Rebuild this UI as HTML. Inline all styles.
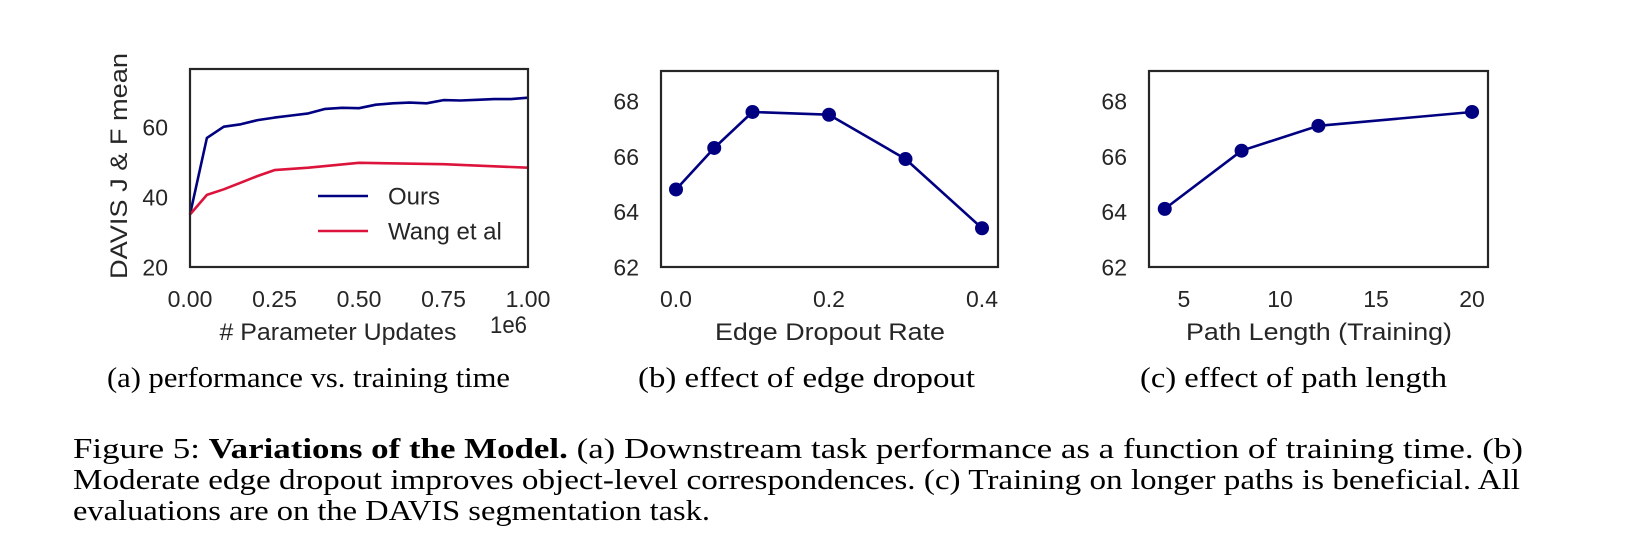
<!DOCTYPE html>
<html><head><meta charset="utf-8">
<style>
html,body{margin:0;padding:0;background:#fff;}
svg{display:block;}
.tick{font-family:"Liberation Sans",sans-serif;font-size:23px;fill:#262626;}
.axl{font-family:"Liberation Sans",sans-serif;font-size:24px;fill:#262626;}
.cap{font-family:"Liberation Serif",serif;font-size:29px;fill:#000;}
</style></head>
<body>
<svg id="fig" width="1642" height="548" viewBox="0 0 1642 548" xmlns="http://www.w3.org/2000/svg">
<g id="charts"></g>
<text class="cap" x="107" y="387" textLength="403" lengthAdjust="spacingAndGlyphs">(a) performance vs. training time</text>
<text class="cap" x="638" y="387" textLength="337" lengthAdjust="spacingAndGlyphs">(b) effect of edge dropout</text>
<text class="cap" x="1140" y="387" textLength="307" lengthAdjust="spacingAndGlyphs">(c) effect of path length</text>
<text class="cap" x="73" y="458" textLength="1450" lengthAdjust="spacingAndGlyphs">Figure 5: <tspan font-weight="bold">Variations of the Model.</tspan> (a) Downstream task performance as a function of training time. (b)</text>
<text class="cap" x="73" y="489" textLength="1447" lengthAdjust="spacingAndGlyphs">Moderate edge dropout improves object-level correspondences. (c) Training on longer paths is beneficial. All</text>
<text class="cap" x="73" y="520" textLength="637" lengthAdjust="spacingAndGlyphs">evaluations are on the DAVIS segmentation task.</text>
</svg>
<script>
// Chart (a) data
const aX = [0,0.05,0.1,0.15,0.2,0.25,0.3,0.35,0.4,0.45,0.5,0.55,0.6,0.65,0.7,0.75,0.8,0.85,0.9,0.95,1.0];
const aOurs = [35,56.9,60.1,60.8,62,62.7,63.3,63.9,65.2,65.5,65.4,66.4,66.8,67.0,66.8,67.7,67.6,67.8,68.0,68.0,68.4];
const aWangX = [0,0.05,0.1,0.15,0.2,0.25,0.35,0.5,0.75,1.0];
const aWang = [35,40.6,42.2,44.1,46,47.7,48.4,49.8,49.4,48.4];
const aXTicks = [0,0.25,0.5,0.75,1.0];
const aXTickLabels = ["0.00","0.25","0.50","0.75","1.00"];
const aYTicks = [20,40,60];
// Chart (b) data
const bX = [0,0.05,0.1,0.2,0.3,0.4];
const bY = [64.8,66.3,67.6,67.5,65.9,63.4];
const bXTicks = [0,0.2,0.4];
const bXTickLabels = ["0.0","0.2","0.4"];
const bYTicks = [62,64,66,68];
// Chart (c) data
const cX = [4,8,12,20];
const cY = [64.1,66.2,67.1,67.6];
const cXTicks = [5,10,15,20];
const cYTicks = [62,64,66,68];

const NS = "http://www.w3.org/2000/svg";
const root = document.getElementById('charts');
function mk(tag, attrs, parent){
  const e = document.createElementNS(NS, tag);
  for (const k in attrs) e.setAttribute(k, attrs[k]);
  (parent||root).appendChild(e);
  return e;
}
function scale(d0,d1,r0,r1){return v => r0 + (v-d0)/(d1-d0)*(r1-r0);}

function panel(o){
  const g = mk('g', {});
  
  
  const sx = scale(o.xd[0], o.xd[1], o.L, o.R);
  const sy = scale(o.yd[0], o.yd[1], o.B, o.T);
  o.xt.forEach((v,i)=>{
    const t = mk('text', {x: sx(v), y: o.B+40, 'text-anchor':'middle', class:'tick'}, g);
    t.textContent = o.xl ? o.xl[i] : String(v);
    
    
  });
  o.yt.forEach(v=>{
    const t = mk('text', {x: o.L-22, y: sy(v)+8.5, 'text-anchor':'end', class:'tick'}, g);
    t.textContent = String(v);
    
    
  });
  const xl = mk('text', {x: o.xlx, y: o.B+73, 'text-anchor':'middle', class:'axl', textLength:o.xlw, lengthAdjust:'spacingAndGlyphs'}, g);
  xl.textContent = o.xlabel;
  
  
  o.series.forEach(s=>{
    const pts = s.x.map((v,i)=>sx(v).toFixed(1)+','+sy(s.y[i]).toFixed(1)).join(' ');
    const pl = mk('polyline', {points: pts, fill:'none', stroke:s.color, 'stroke-width':2.6, 'stroke-linejoin':'round'}, g);
    
    
    if (s.markers) s.x.forEach((v,i)=>{
      const c = mk('circle', {cx: sx(v), cy: sy(s.y[i]), r: 7, fill: s.color}, g);
      
      
    });
  });
  const fr = mk('rect', {x:o.L, y:o.T, width:o.R-o.L, height:o.B-o.T, fill:'none', stroke:'#262626', 'stroke-width':2.2}, g);
  
  
  return {g, sx, sy};
}

const pa = panel({name:'chart-a', L:190, R:528, T:69, B:267, xd:[0,1], yd:[20,76.6],
  xt:aXTicks, xl:aXTickLabels, yt:aYTicks, xlabel:'# Parameter Updates', xlx:338, xlw:237,
  series:[{name:'ours', x:aX, y:aOurs, color:'#000080'},{name:'wang', x:aWangX, y:aWang, color:'#dc143c'}]});
const e6 = mk('text', {x:490, y:333, class:'axl', textLength:37, lengthAdjust:'spacingAndGlyphs'}, pa.g);
e6.textContent = '1e6';


const yt = mk('text', {x:0, y:0, 'text-anchor':'middle', class:'axl', textLength:226, lengthAdjust:'spacingAndGlyphs', transform:'translate(127,166) rotate(-90)'}, pa.g);
yt.textContent = 'DAVIS J & F mean';


[['Ours','#000080',196],['Wang et al','#dc143c',231]].forEach(l=>{
  const ln = mk('line', {x1:318, x2:368, y1:l[2], y2:l[2], stroke:l[1], 'stroke-width':2.6}, pa.g);
  
  
  const t = mk('text', {x:388, y:l[2]+8.5, class:'axl'}, pa.g);
  t.textContent = l[0];
  
  
});

panel({name:'chart-b', L:661, R:998, T:71, B:267, xd:[-0.0196,0.4209], yd:[62,69.08],
  xt:bXTicks, xl:bXTickLabels, yt:bYTicks, xlabel:'Edge Dropout Rate', xlx:830, xlw:230,
  series:[{name:'dropout', x:bX, y:bY, color:'#000080', markers:true}]});
panel({name:'chart-c', L:1149, R:1488, T:71, B:267, xd:[3.18,20.83], yd:[62,69.08],
  xt:cXTicks, yt:cYTicks, xlabel:'Path Length (Training)', xlx:1319, xlw:266,
  series:[{name:'path-length', x:cX, y:cY, color:'#000080', markers:true}]});
</script>
</body></html>
